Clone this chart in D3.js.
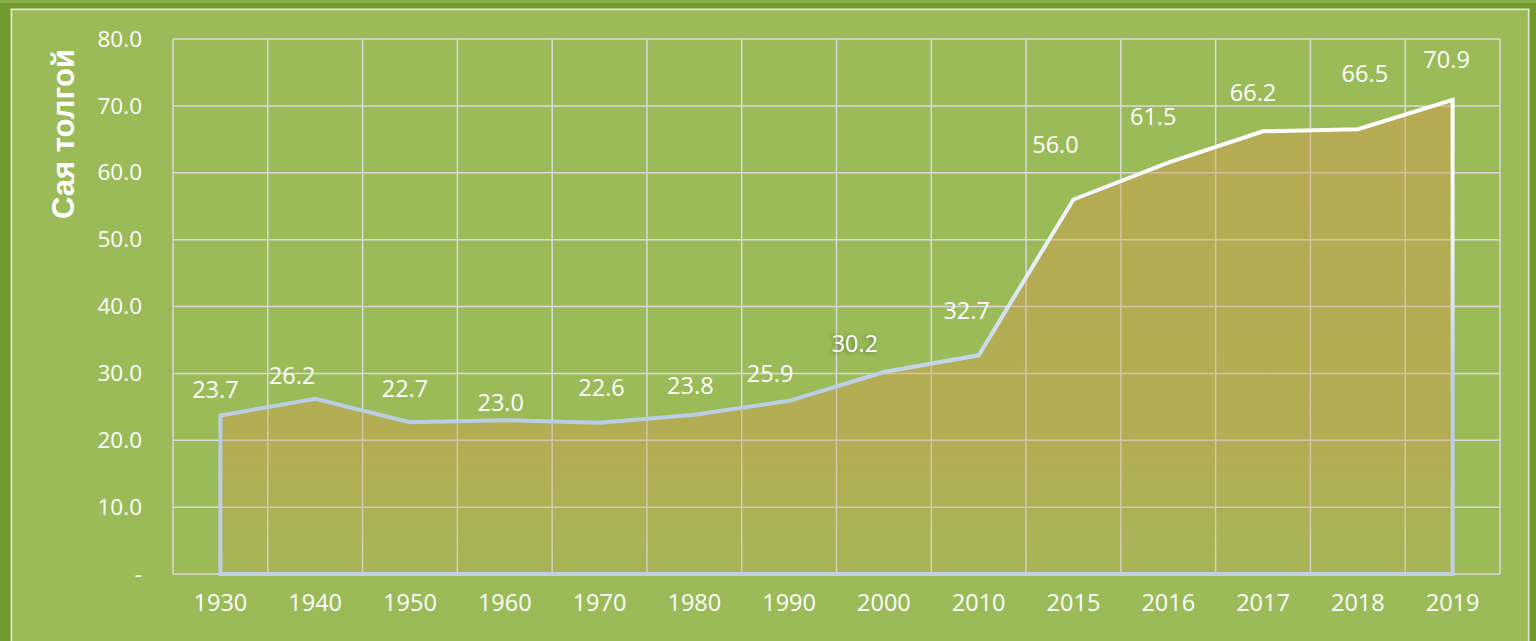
<!DOCTYPE html>
<html>
<head>
<meta charset="utf-8">
<script src="https://cdn.jsdelivr.net/npm/d3@7"></script>
<style>
  html, body { margin: 0; padding: 0; background: #72992e; }
  svg { display: block; }
</style>
</head>
<body>
<div id="chart"></div>
<script>
// data
const years = ["1930","1940","1950","1960","1970","1980","1990","2000","2010","2015","2016","2017","2018","2019"]
const values = [23.7, 26.2, 22.7, 23.0, 22.6, 23.8, 25.9, 30.2, 32.7, 56.0, 61.5, 66.2, 66.5, 70.9]
const yTicks = [0, 10, 20, 30, 40, 50, 60, 70, 80]
const yTitle = "Сая толгой"
// hand placed label nudges (px), like the original sheet
const labelNudge = [[-5,-27],[-23,-24],[-5,-34],[-4,-18],[2,-36],[-4,-30],[-19,-28],[-29,-29],[-12,-45],[-18,-56],[-15,-47],[-10,-39],[7,-56],[-6,-41]]

function chart(){
  const W = 1536, H = 641
  const margin = {top: 39, right: 36, bottom: 67, left: 173},
  width = W - margin.left - margin.right,
  height = H - margin.top - margin.bottom;

  const root = d3.select("#chart").append("svg").attr("width", W).attr("height", H)

  // frame
  root.append("rect").attr("width", W).attr("height", H).attr("fill", "#72992e")
  root.append("rect").attr("x", 0).attr("y", 0).attr("width", W).attr("height", 3).attr("fill", "#8aad4c")
  root.append("rect").attr("x", 10).attr("y", 8).attr("width", 1520).attr("height", 645).attr("fill", "#9bbb59")
  root.append("rect").attr("x", 11.5).attr("y", 9.5).attr("width", 1517).attr("height", 645)
      .attr("fill", "none").attr("stroke", "#dfe3d6").attr("stroke-width", 1.5)

  const defs = root.append("defs")
  const fillGrad = defs.append("linearGradient").attr("id", "fillGrad").attr("gradientUnits", "userSpaceOnUse")
      .attr("x1", 0).attr("x2", 0).attr("y1", 40).attr("y2", 574)
  fillGrad.append("stop").attr("offset", "0%").attr("stop-color", "#dc9548").attr("stop-opacity", 0.42)
  fillGrad.append("stop").attr("offset", "70%").attr("stop-color", "#dc9548").attr("stop-opacity", 0.35)
  fillGrad.append("stop").attr("offset", "100%").attr("stop-color", "#dc9548").attr("stop-opacity", 0.12)
  const lineGrad = defs.append("linearGradient").attr("id", "lineGrad").attr("gradientUnits", "userSpaceOnUse")
      .attr("x1", 0).attr("x2", 0).attr("y1", 90).attr("y2", 574)
  lineGrad.append("stop").attr("offset", "0%").attr("stop-color", "#ffffff")
  lineGrad.append("stop").attr("offset", "25%").attr("stop-color", "#eaf0f7")
  lineGrad.append("stop").attr("offset", "55%").attr("stop-color", "#b9cde5")
  lineGrad.append("stop").attr("offset", "100%").attr("stop-color", "#c4cfe2")
  // the odd little shadow behind one label
  const shadow = defs.append("filter").attr("id", "shadow").attr("x", "-30%").attr("y", "-50%").attr("width", "160%").attr("height", "200%")
  shadow.append("feDropShadow").attr("dx", -2).attr("dy", 1).attr("stdDeviation", 2).attr("flood-color", "#2f3a1a").attr("flood-opacity", 0.5)

  const svg = root.append("g").attr("transform", `translate(${margin.left},${margin.top})`)

  // scales
  const x = d3.scaleBand().domain(years).range([0, width]).padding(0)
  const y = d3.scaleLinear().domain([0, 80]).range([height, 0])
  const cx = d => x(d) + x.bandwidth() / 2

  // grid
  const edges = years.map(d => x(d)).concat([width])
  svg.append("g").selectAll("line").data(edges).join("line")
     .attr("x1", d => d).attr("x2", d => d).attr("y1", 0).attr("y2", height)
     .attr("stroke", "#d9d9d9").attr("stroke-width", 1.5)
  svg.append("g").selectAll("line").data(yTicks).join("line")
     .attr("x1", 0).attr("x2", width).attr("y1", d => y(d)).attr("y2", d => y(d))
     .attr("stroke", "#d9d9d9").attr("stroke-width", 1.5)

  // area
  const pts = years.map((d, i) => ({year: d, value: values[i]}))
  const area = d3.area().x(d => cx(d.year)).y0(y(0)).y1(d => y(d.value))
  svg.append("path").datum(pts).attr("d", d => area(d) )
     .attr("fill", "url(#fillGrad)").attr("stroke", "url(#lineGrad)").attr("stroke-width", 4)
     .attr("stroke-linejoin", "miter")

  // y axis
  const yAxis = svg.append("g").call(d3.axisLeft(y).tickValues(yTicks).tickSize(0).tickPadding(31)
                    .tickFormat(d => d === 0 ? "-" : d3.format(".1f")(d)))
  yAxis.select(".domain").remove()
  yAxis.selectAll("text").attr("fill", "#fff").style("font-family", "'Open Sans'").style("font-size", "22.5px")

  // x axis
  const xAxis = svg.append("g").attr("transform", `translate(0, ${height})`)
                   .call(d3.axisBottom(x).tickSize(0).tickPadding(20))
  xAxis.select(".domain").remove()
  xAxis.selectAll("text").attr("fill", "#fff").style("font-family", "'Open Sans'").style("font-size", "23.5px")

  // data labels
  svg.append("g").selectAll("text").data(pts).join("text")
     .attr("x", (d, i) => cx(d.year) + labelNudge[i][0])
     .attr("y", (d, i) => y(d.value) + labelNudge[i][1])
     .attr("text-anchor", "middle").attr("dominant-baseline", "central")
     .attr("fill", "#fff").style("font-family", "'Open Sans'").style("font-size", "23.5px")
     .attr("filter", d => d.year === "2000" ? "url(#shadow)" : null)
     .text(d => d3.format(".1f")(d.value))

  // axis title
  root.append("text").attr("transform", "translate(74, 134) rotate(-90)")
      .attr("text-anchor", "middle").attr("fill", "#fff")
      .style("font-family", "'Liberation Sans', Arial, sans-serif").style("font-weight", "bold").style("font-size", "31px")
      .text(yTitle)
}
chart()
</script>
</body>
</html>
